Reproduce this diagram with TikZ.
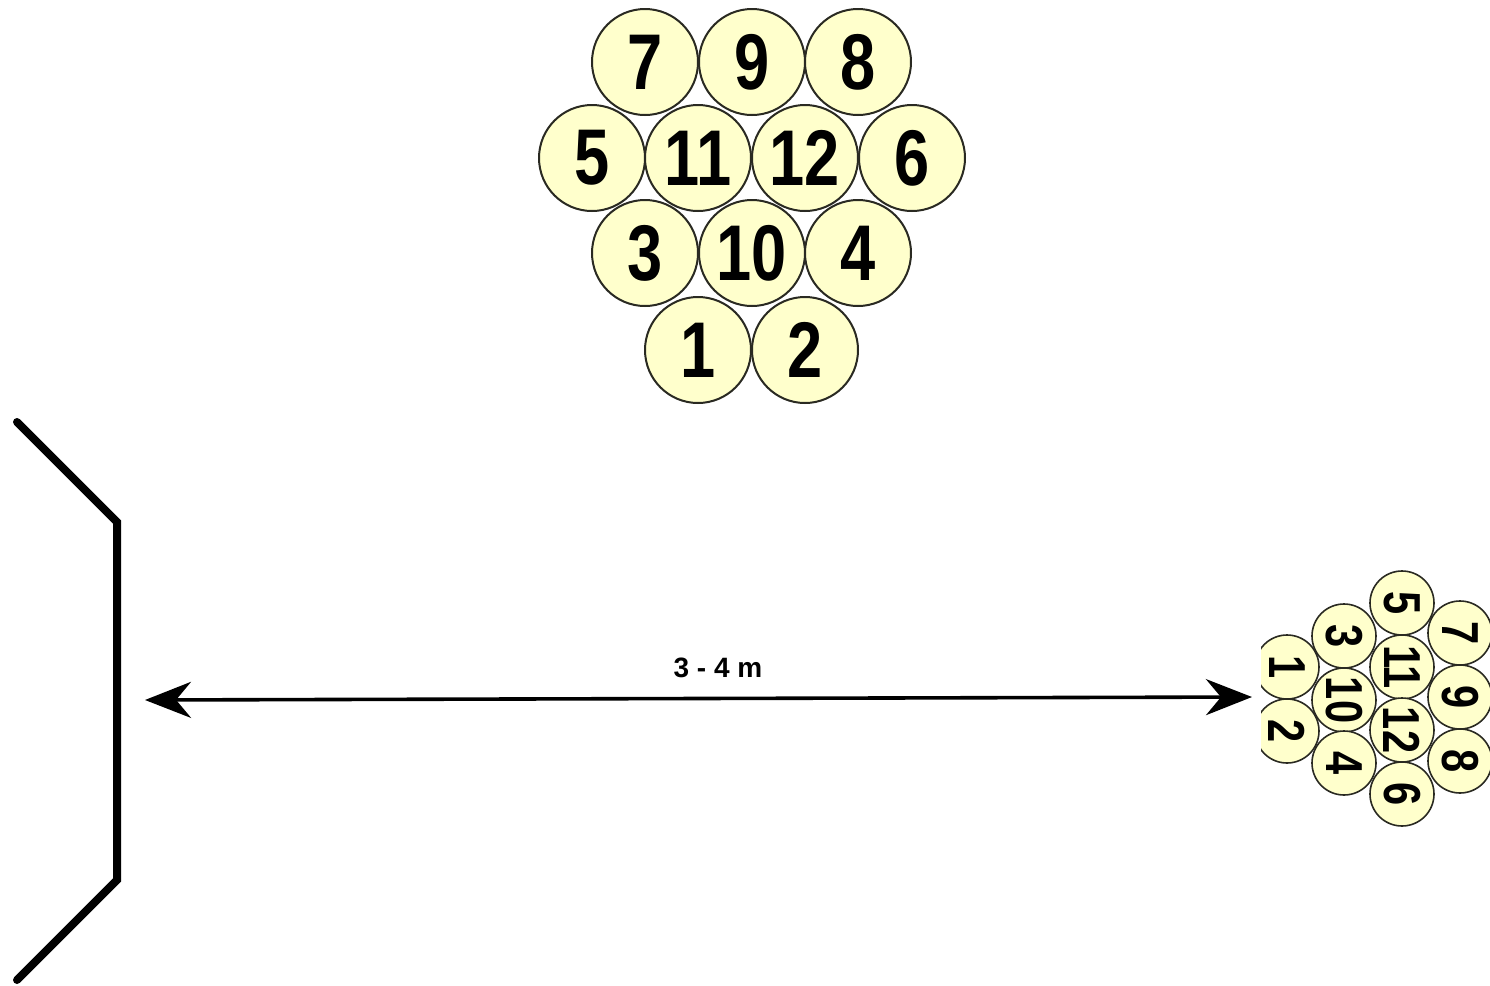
\documentclass[tikz,border=0pt]{standalone}
\usepackage{fontspec}
\setmainfont{Liberation Sans}
\usetikzlibrary{arrows.meta}
\definecolor{ballfill}{HTML}{FFFFCC}
\definecolor{ballline}{HTML}{2A2A22}
\tikzset{
  ball/.style={circle, draw=ballline, line width=1pt, fill=ballfill, minimum size=53pt, inner sep=0pt,
    font=\fontsize{39.5}{40}\selectfont\bfseries},
  sball/.style={circle, draw=ballline, line width=0.8pt, fill=ballfill, minimum size=32pt, inner sep=0pt,
    rotate=-90, font=\fontsize{26}{27}\selectfont\bfseries},
  wall/.style={line width=4pt, line cap=round, line join=miter},
  dim/.style={line width=1.8pt, {Stealth[length=23pt,width=18pt]}-{Stealth[length=23pt,width=18pt]}},
}
\newcommand{\nar}[1]{\scalebox{0.8}[1]{#1}}
\begin{document}
\begin{tikzpicture}[x=0.5pt,y=-0.5pt]
\useasboundingbox (0,0) rectangle (1490,986);
% large cluster
\node[ball] (a7) at (645,62) {\nar{7}};
\node[ball] (a9) at (752,62) {\nar{9}};
\node[ball] (a8) at (858,62) {\nar{8}};
\node[ball] (a5) at (592,158) {\nar{5}};
\node[ball] (a11) at (698,158) {\nar{11}};
\node[ball] (a12) at (805,158) {\nar{12}};
\node[ball] (a6) at (912,158) {\nar{6}};
\node[ball] (a3) at (645,253) {\nar{3}};
\node[ball] (a10) at (752,253) {\nar{10}};
\node[ball] (a4) at (858,253) {\nar{4}};
\node[ball] (a1) at (698,350) {\nar{1}};
\node[ball] (a2) at (805,350) {\nar{2}};
% small rotated cluster
\begin{scope}
\clip (1261,540) rectangle (1490,826);
\node[sball] (b7) at (1460,633) {\nar{7}};
\node[sball] (b9) at (1460,697) {\nar{9}};
\node[sball] (b8) at (1460,761) {\nar{8}};
\node[sball] (b5) at (1402,603) {\nar{5}};
\node[sball] (b11) at (1402,667) {\nar{11}};
\node[sball] (b12) at (1402,730) {\nar{12}};
\node[sball] (b6) at (1402,794) {\nar{6}};
\node[sball] (b3) at (1344,636) {\nar{3}};
\node[sball] (b10) at (1344,700) {\nar{10}};
\node[sball] (b4) at (1344,763) {\nar{4}};
\node[sball] (b1) at (1287,667) {\nar{1}};
\node[sball] (b2) at (1287,731) {\nar{2}};
\end{scope}
% wall
\coordinate (w1) at (17,422);
\coordinate (w2) at (117,522);
\coordinate (w3) at (117,880);
\coordinate (w4) at (17,980);
\draw[wall] (w1) -- (w2) -- (w3) -- (w4);
% dimension arrow
\coordinate (dl) at (145,700);
\coordinate (dr) at (1252,697);
\draw[dim] (dl) -- (dr);
\node[font=\fontsize{14}{15}\selectfont\bfseries] (lab) at (718,668) {3 - 4 m};
\end{tikzpicture}
\end{document}
